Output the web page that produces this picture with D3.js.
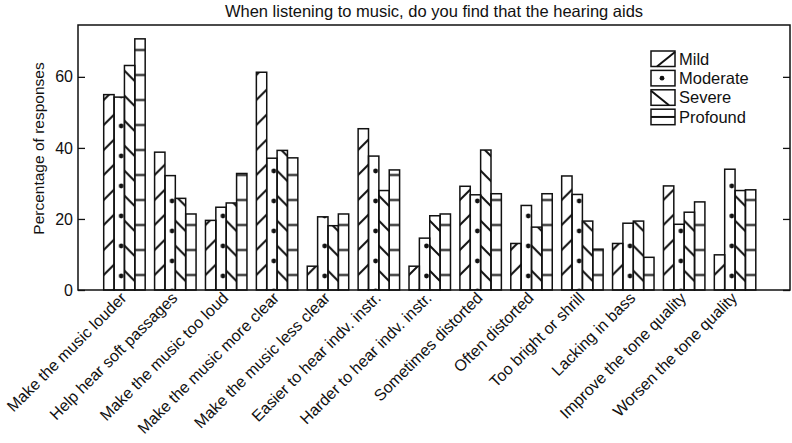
<!DOCTYPE html>
<html>
<head>
<meta charset="utf-8">
<script src="https://cdn.jsdelivr.net/npm/d3@7"></script>
<style>
  body { margin: 0; background: #fff; }
  svg { display: block; font-family: "Liberation Sans", Arial, Helvetica, sans-serif; }
</style>
</head>
<body>
<svg id="chart" width="792" height="443"></svg>
<script>
const categories = [
  "Make the music louder",
  "Help hear soft passages",
  "Make the music too loud",
  "Make the music more clear",
  "Make the music less clear",
  "Easier to hear indv. instr.",
  "Harder to hear indv. instr.",
  "Sometimes distorted",
  "Often distorted",
  "Too bright or shrill",
  "Lacking in bass",
  "Improve the tone quality",
  "Worsen the tone quality"
];
const seriesNames = ["Mild", "Moderate", "Severe", "Profound"];
const mild     = [55.0, 38.8, 19.6, 61.3, 6.7, 45.4, 6.7, 29.2, 13.1, 32.1, 13.1, 29.3, 9.9];
const moderate = [54.3, 32.2, 23.3, 37.1, 20.6, 37.7, 14.6, 26.8, 23.8, 26.9, 18.8, 18.5, 34.0];
const severe   = [63.2, 25.8, 24.5, 39.3, 18.1, 28.0, 20.9, 39.4, 17.7, 19.4, 19.4, 21.9, 28.0];
const profound = [70.7, 21.4, 32.8, 37.2, 21.4, 33.8, 21.4, 27.1, 27.1, 11.5, 9.2, 24.8, 28.2];
const yTicks = [0, 20, 40, 60];
const titleText = "When listening to music, do you find that the hearing aids";
const yLabel = "Percentage of responses";

const seriesValues = { Mild: mild, Moderate: moderate, Severe: severe, Profound: profound };

const svg = d3.select("#chart");
const pLeft = 78, pRight = 790, pTop = 25, pBottom = 290;

const x0 = d3.scaleBand().domain(categories).range([99, 760.5]).paddingInner(0.185).paddingOuter(0.0925);
const x1 = d3.scaleBand().domain(seriesNames).range([0, x0.bandwidth()]);
const y = d3.scaleLinear().domain([0, 74.6]).range([pBottom, pTop]);

// patterns
const defs = svg.append("defs");
const P = 25;
const pMild = defs.append("pattern").attr("id", "p-Mild").attr("patternUnits", "userSpaceOnUse")
  .attr("x", 0).attr("y", pTop).attr("width", P).attr("height", P);
pMild.append("path").attr("d", `M0,${P}L${P},0M-3,3L3,-3M${P-3},${P+3}L${P+3},${P-3}`)
  .attr("stroke", "#111").attr("stroke-width", 2).attr("fill", "none");

const pSev = defs.append("pattern").attr("id", "p-Severe").attr("patternUnits", "userSpaceOnUse")
  .attr("x", 0).attr("y", pTop).attr("width", P).attr("height", P);
pSev.append("path").attr("d", `M0,0L${P},${P}M-3,${P-3}L3,${P+3}M${P-3},-3L${P+3},3`)
  .attr("stroke", "#111").attr("stroke-width", 2).attr("fill", "none");

const pProf = defs.append("pattern").attr("id", "p-Profound").attr("patternUnits", "userSpaceOnUse")
  .attr("x", 0).attr("y", pTop + P / 2).attr("width", P).attr("height", P);
pProf.append("path").attr("d", `M-1,${P/2}H${P+1}`)
  .attr("stroke", "#111").attr("stroke-width", 2).attr("fill", "none");

// moderate dots: two phases alternating by group
const step = x0.step();
const modC0 = x0(categories[0]) + x1("Moderate") + x1.bandwidth() / 2;
[["a", 6], ["b", 21]].forEach(([k, cy]) => {
  const p = defs.append("pattern").attr("id", `p-Moderate-${k}`).attr("patternUnits", "userSpaceOnUse")
    .attr("x", modC0 - step / 2).attr("y", 0).attr("width", step).attr("height", 30);
  p.append("circle").attr("cx", step / 2).attr("cy", cy).attr("r", 2.4).attr("fill", "#111");
});

// title
svg.append("text").attr("x", (pLeft + pRight) / 2).attr("y", 17).attr("text-anchor", "middle")
  .attr("font-size", 16.5).attr("fill", "#111").text(titleText);

// bars
const groups = svg.append("g").selectAll("g").data(categories).join("g")
  .attr("transform", d => `translate(${x0(d)},0)`);
groups.selectAll("rect")
  .data((c, i) => seriesNames.map(s => ({ s, i, v: seriesValues[s][i] })))
  .join("rect")
  .attr("x", d => x1(d.s))
  .attr("y", d => y(d.v))
  .attr("width", x1.bandwidth())
  .attr("height", d => y(0) - y(d.v))
  .attr("fill", d => d.s === "Moderate" ? `url(#p-Moderate-${d.i % 2 ? "b" : "a"})` : `url(#p-${d.s})`)
  .attr("stroke", "#111")
  .attr("stroke-width", 1.5);

// frame
svg.append("rect").attr("x", pLeft).attr("y", pTop).attr("width", pRight - pLeft).attr("height", pBottom - pTop)
  .attr("fill", "none").attr("stroke", "#111").attr("stroke-width", 1.5);

// y axis (inward ticks) left and right
const yAxisL = svg.append("g").attr("transform", `translate(${pLeft},0)`)
  .call(d3.axisRight(y).tickValues(yTicks).tickSize(7).tickFormat(""));
yAxisL.select(".domain").remove();
yAxisL.selectAll("line").attr("stroke", "#111").attr("stroke-width", 1.3);
const yAxisR = svg.append("g").attr("transform", `translate(${pRight},0)`)
  .call(d3.axisLeft(y).tickValues(yTicks).tickSize(7).tickFormat(""));
yAxisR.select(".domain").remove();
yAxisR.selectAll("line").attr("stroke", "#111").attr("stroke-width", 1.3);

svg.append("g").selectAll("text").data(yTicks).join("text")
  .attr("x", pLeft - 5).attr("y", d => y(d)).attr("dy", "0.35em")
  .attr("text-anchor", "end").attr("font-size", 16).attr("fill", "#111").text(d => d);

svg.append("text").attr("transform", `translate(44,${(pTop + pBottom) / 2 - 9}) rotate(-90)`)
  .attr("text-anchor", "middle").attr("font-size", 15.5).attr("fill", "#111").text(yLabel);

// x labels
svg.append("g").selectAll("text").data(categories).join("text")
  .attr("transform", d => `translate(${x0(d) + x0.bandwidth() / 2 + 3},${pBottom + 9}) rotate(-45)`)
  .attr("text-anchor", "end").attr("font-size", 16).attr("fill", "#111").text(d => d);

// legend
const lg = svg.append("g").attr("transform", "translate(651,51)");
const rowH = 19.4, bw = 24, bh = 15.5;
const rows = lg.selectAll("g").data(seriesNames).join("g")
  .attr("transform", (d, i) => `translate(0,${i * rowH})`);
rows.append("rect").attr("width", bw).attr("height", bh).attr("fill", "#fff")
  .attr("stroke", "#111").attr("stroke-width", 1.5);
rows.each(function(d) {
  const g = d3.select(this);
  if (d === "Mild") g.append("line").attr("x1", 6).attr("y1", bh).attr("x2", bw).attr("y2", 1)
    .attr("stroke", "#111").attr("stroke-width", 2);
  if (d === "Moderate") g.append("circle").attr("cx", bw / 2 - 1).attr("cy", bh / 2).attr("r", 2.4).attr("fill", "#111");
  if (d === "Severe") g.append("line").attr("x1", 0).attr("y1", 1).attr("x2", bw - 6).attr("y2", bh)
    .attr("stroke", "#111").attr("stroke-width", 2);
  if (d === "Profound") g.append("line").attr("x1", 0).attr("y1", bh / 2).attr("x2", bw).attr("y2", bh / 2)
    .attr("stroke", "#111").attr("stroke-width", 2);
});
rows.append("text").attr("x", bw + 4).attr("y", bh - 2).attr("font-size", 16.5).attr("fill", "#111").text(d => d);
</script>
</body>
</html>
